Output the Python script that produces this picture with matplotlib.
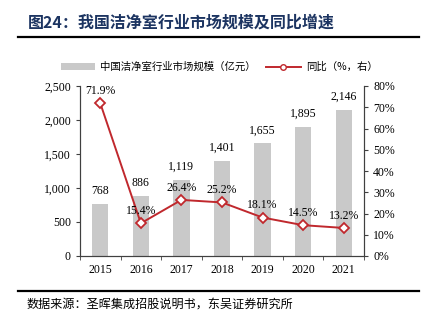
import matplotlib
matplotlib.use('Agg')
import matplotlib.pyplot as plt
from matplotlib.lines import Line2D
from matplotlib.patches import Patch
from matplotlib.ticker import FuncFormatter, MultipleLocator

# データ
years = ['2015', '2016', '2017', '2018', '2019', '2020', '2021']
market_size = [768, 886, 1119, 1401, 1655, 1895, 2146]   # 亿元
yoy_growth = [71.9, 15.4, 26.4, 25.2, 18.1, 14.5, 13.2]  # %

title_text = '图24：我国洁净室行业市场规模及同比增速'
bar_label = '中国洁净室行业市场规模（亿元）'
line_label = '同比（%，右）'
source_text = '数据来源：圣晖集成招股说明书，东吴证券研究所'

cjk = ['Noto Sans CJK SC', 'DejaVu Sans']
serif = 'Liberation Serif'
bar_color = '#c9c9c9'
line_color = '#c0282d'
spine_color = '#404040'

fig = plt.figure(figsize=(4.31, 3.26), dpi=100)

# タイトルと罫線
fig.text(28 / 431, 1 - 23 / 326, title_text, family=cjk, fontsize=11.5,
         fontweight='bold', color='#1c3461', va='center', ha='left')
fig.add_artist(Line2D([18 / 431, 419 / 431], [1 - 37 / 326] * 2,
                      color='black', lw=1.6, transform=fig.transFigure))
fig.add_artist(Line2D([18 / 431, 419 / 431], [1 - 291 / 326] * 2,
                      color='black', lw=1.6, transform=fig.transFigure))
fig.text(27 / 431, 1 - 304 / 326, source_text, family=cjk, fontsize=8.7,
         color='black', va='center', ha='left')

# メイン軸
ax = fig.add_axes([80 / 431, 1 - 256 / 326, 284 / 431, 170 / 326])
x = list(range(len(years)))
ax.bar(x, market_size, width=0.4, color=bar_color, zorder=1)
ax.set_xlim(-0.5, len(years) - 0.5)
ax.set_ylim(0, 2500)
ax.yaxis.set_major_locator(MultipleLocator(500))
ax.yaxis.set_major_formatter(FuncFormatter(lambda v, p: f'{int(v):,}'))
ax.set_xticks(x)
ax.set_xticklabels(years)
ax.set_xticks([i - 0.5 for i in range(len(years) + 1)], minor=True)
ax.tick_params(axis='x', which='major', length=0, pad=6)
ax.tick_params(axis='x', which='minor', length=3, direction='out', color=spine_color)
ax.tick_params(axis='y', length=3, direction='out', color=spine_color)
for lab in ax.get_xticklabels() + ax.get_yticklabels():
    lab.set_family(serif)
    lab.set_fontsize(8.5)
ax.spines['top'].set_visible(False)
for s in ['left', 'bottom', 'right']:
    ax.spines[s].set_color(spine_color)

for xi, v in zip(x, market_size):
    ax.annotate(f'{v:,}', (xi, v), xytext=(0, 5), textcoords='offset points',
                ha='center', va='bottom', family=serif, fontsize=8.5)

# 右軸（同比）
ax2 = ax.twinx()
ax2.plot(x, yoy_growth, color=line_color, lw=1.4, marker='D', markersize=5,
         markerfacecolor='white', markeredgecolor=line_color, markeredgewidth=1.3,
         zorder=3)
ax2.set_ylim(0, 80)
ax2.yaxis.set_major_locator(MultipleLocator(10))
ax2.yaxis.set_major_formatter(FuncFormatter(lambda v, p: f'{int(v)}%'))
ax2.tick_params(axis='y', length=3, direction='out', color=spine_color)
for lab in ax2.get_yticklabels():
    lab.set_family(serif)
    lab.set_fontsize(8.5)
ax2.spines['top'].set_visible(False)
for s in ['left', 'bottom', 'right']:
    ax2.spines[s].set_color(spine_color)

for xi, v in zip(x, yoy_growth):
    ax2.annotate(f'{v:.1f}%', (xi, v), xytext=(0, 4.5), textcoords='offset points',
                 ha='center', va='bottom', family=serif, fontsize=8.5)

# 凡例
handles = [Patch(facecolor=bar_color, edgecolor='none'),
           Line2D([], [], color=line_color, lw=1.4, marker='o', markersize=4,
                  markerfacecolor='white', markeredgecolor=line_color)]
fig.legend(handles, [bar_label, line_label], loc='center',
           bbox_to_anchor=(219 / 431, 1 - 67 / 326), ncol=2, frameon=False,
           prop={'family': cjk, 'size': 7.5}, handlelength=3.3, handleheight=0.6,
           columnspacing=1.0, handletextpad=0.5)

plt.savefig('out.png', dpi=100)
plt.close()
